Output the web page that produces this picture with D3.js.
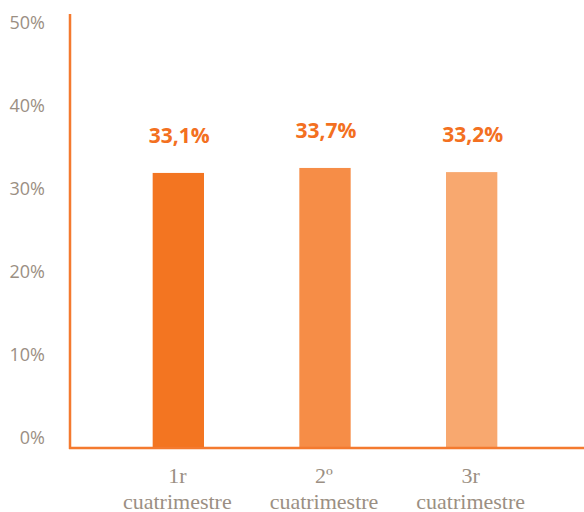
<!DOCTYPE html>
<html>
<head>
<meta charset="utf-8">
<script src="https://cdn.jsdelivr.net/npm/d3@7"></script>
<style>
body { margin: 0; background: #fff; }
</style>
</head>
<body>
<script>
// data
var categories = ["1r cuatrimestre", "2º cuatrimestre", "3r cuatrimestre"];
var catLines = [["1r", "cuatrimestre"], ["2º", "cuatrimestre"], ["3r", "cuatrimestre"]];
var values = [33.1, 33.7, 33.2];
var valueLabels = ["33,1%", "33,7%", "33,2%"];
var barColors = ["#f37521", "#f68d47", "#f8a86f"];
var yTicks = [0, 10, 20, 30, 40, 50];

var W = 584, H = 512;
var AXIS = "#f47a2f", GREY = "#9b8f83";

var svg = d3.select("body").append("svg").attr("width", W).attr("height", H);

var x = d3.scaleBand()
	.domain(categories)
	.range([105, 545])
	.paddingInner(0.65)
	.paddingOuter(0.325);
var y = d3.scaleLinear()
	.domain([0, 50])
	.range([448, 32.5]);

// y tick labels
var axisLeft = d3.axisLeft(y).tickValues(yTicks).tickSize(0).tickPadding(25)
	.tickFormat(function (d) { return d + "%"; });
var gy = svg.append("g").attr("transform", "translate(70,0)").call(axisLeft);
gy.select(".domain").remove();
gy.selectAll("text")
	.attr("fill", GREY)
	.attr("dy", "-0.25em")
	.style("font-family", "'Open Sans', sans-serif")
	.style("font-size", "18px");

// bars
svg.selectAll("rect.bar")
	.data(values)
	.enter()
	.append("rect")
	.attr("class", "bar")
	.attr("x", function (d, i) { return x(categories[i]); })
	.attr("y", function (d) { return y(d); })
	.attr("width", x.bandwidth())
	.attr("height", function (d) { return y(0) - y(d); })
	.attr("fill", function (d, i) { return barColors[i]; });

// value labels
svg.selectAll("text.val")
	.data(values)
	.enter()
	.append("text")
	.attr("class", "val")
	.attr("x", function (d, i) { return x(categories[i]) + x.bandwidth() / 2 + 1; })
	.attr("y", function (d) { return y(d) - 30; })
	.attr("text-anchor", "middle")
	.attr("fill", "#f37021")
	.style("font-family", "'Open Sans', sans-serif")
	.style("font-weight", "bold")
	.style("font-size", "21px")
	.text(function (d, i) { return valueLabels[i]; });

// axis lines
svg.append("line")
	.attr("x1", 70).attr("x2", 70)
	.attr("y1", 14).attr("y2", y(0) + 1)
	.attr("stroke", AXIS).attr("stroke-width", 2.5);
svg.append("line")
	.attr("x1", 69).attr("x2", W)
	.attr("y1", y(0)).attr("y2", y(0))
	.attr("stroke", AXIS).attr("stroke-width", 2.5);

// category labels
var cat = svg.selectAll("text.cat")
	.data(catLines)
	.enter()
	.append("text")
	.attr("class", "cat")
	.attr("text-anchor", "middle")
	.attr("fill", GREY)
	.style("font-family", "'Liberation Serif', serif")
	.style("font-size", "22px");
cat.each(function (lines, i) {
	var t = d3.select(this);
	lines.forEach(function (l, j) {
		t.append("tspan")
			.attr("x", x(categories[i]) + x.bandwidth() / 2 - 1)
			.attr("y", 483 + j * 26)
			.text(l);
	});
});
</script>
</body>
</html>
